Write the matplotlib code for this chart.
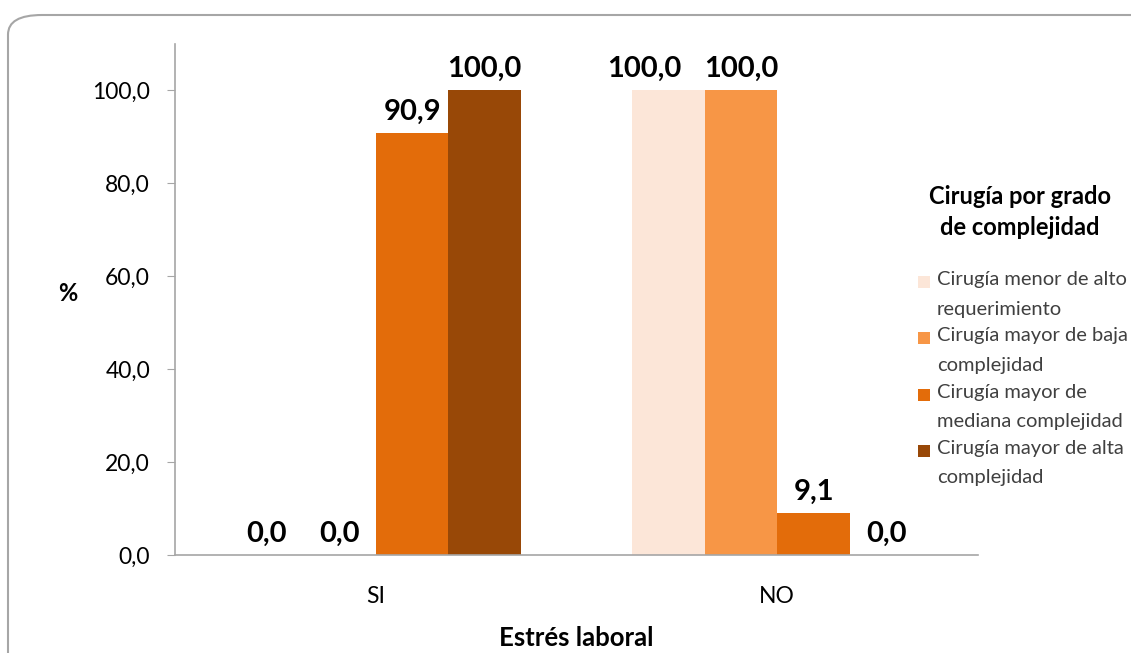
import matplotlib.pyplot as plt
import numpy as np
from matplotlib.patches import FancyBboxPatch, Rectangle

plt.rcParams['font.family'] = ['Lato', 'DejaVu Sans']

# Data
categories = ['SI', 'NO']
series_names = [
    'Cirugía menor de alto\nrequerimiento',
    'Cirugía mayor de baja\ncomplejidad',
    'Cirugía mayor de\nmediana complejidad',
    'Cirugía mayor de alta\ncomplejidad',
]
values = [
    [0.0, 100.0],
    [0.0, 100.0],
    [90.9, 9.1],
    [100.0, 0.0],
]
colors = ['#FCE6D8', '#F79646', '#E36C0A', '#984807']

W, H = 1131, 653
fig = plt.figure(figsize=(W / 100, H / 100), dpi=100)

# rounded frame around the chart
frame = FancyBboxPatch((8 / W, -0.05), 1.2, 1 - 15 / H + 0.05,
                       boxstyle='round,pad=0,rounding_size=0.03',
                       transform=fig.transFigure, facecolor='none',
                       edgecolor='#A6A6A6', linewidth=1.5, clip_on=False)
fig.patches.append(frame)

ax = fig.add_axes([175 / W, (H - 555) / H, 803 / W, 511 / H])

x = np.arange(len(categories))
width = 0.181
offsets = (np.arange(len(series_names)) - 1.5) * width

# shift the label that would collide with its neighbour
label_nudge = {(0, 1): -17}

for i, name in enumerate(series_names):
    bars = ax.bar(x + offsets[i], values[i], width, color=colors[i], label=name)
    for j, (b, v) in enumerate(zip(bars, values[i])):
        ax.annotate(f'{v:.1f}'.replace('.', ','), (b.get_x() + b.get_width() / 2, v),
                    xytext=(label_nudge.get((i, j), 0), 6), textcoords='offset points',
                    ha='center', va='bottom',
                    fontsize=21, fontweight='bold', color='black')

ax.set_xlim(-0.5, 1.5)
ax.set_ylim(0, 110)
ax.set_yticks(np.arange(0, 101, 20))
ax.set_yticklabels([f'{t:.1f}'.replace('.', ',') for t in np.arange(0, 101, 20)], fontsize=16.5)
ax.set_xticks(x)
ax.set_xticklabels(categories, fontsize=16.5)
ax.tick_params(axis='x', length=0, pad=22)
ax.tick_params(axis='y', length=6, color='#A6A6A6', pad=12)

for s in ['top', 'right']:
    ax.spines[s].set_visible(False)
ax.spines['left'].set_color('#A6A6A6')
ax.spines['bottom'].set_color('#A6A6A6')
ax.spines['left'].set_linewidth(1.2)
ax.spines['bottom'].set_linewidth(1.2)

ax.set_xlabel('Estrés laboral', fontsize=18.5, fontweight='bold', labelpad=14)
ax.set_ylabel('%', fontsize=17, fontweight='bold', rotation=0, labelpad=0)
ax.yaxis.set_label_coords(-0.133, 0.49)

# legend: title, then a square and a two-line label per series
fig.text(1020 / W, 1 - 212 / H, 'Cirugía por grado\nde complejidad',
         ha='center', va='center', fontsize=17, fontweight='bold',
         linespacing=1.45, color='black')

for i, (name, c) in enumerate(zip(series_names, colors)):
    y = 282 + 56.3 * i
    fig.patches.append(Rectangle((918 / W, 1 - (y + 6) / H), 12 / W, 12 / H,
                                 transform=fig.transFigure, facecolor=c,
                                 edgecolor='none'))
    fig.text(937 / W, 1 - (y - 11) / H, name, ha='left', va='top',
             fontsize=14.5, color='#404040', linespacing=1.9)

fig.savefig('out.png', dpi=100)
